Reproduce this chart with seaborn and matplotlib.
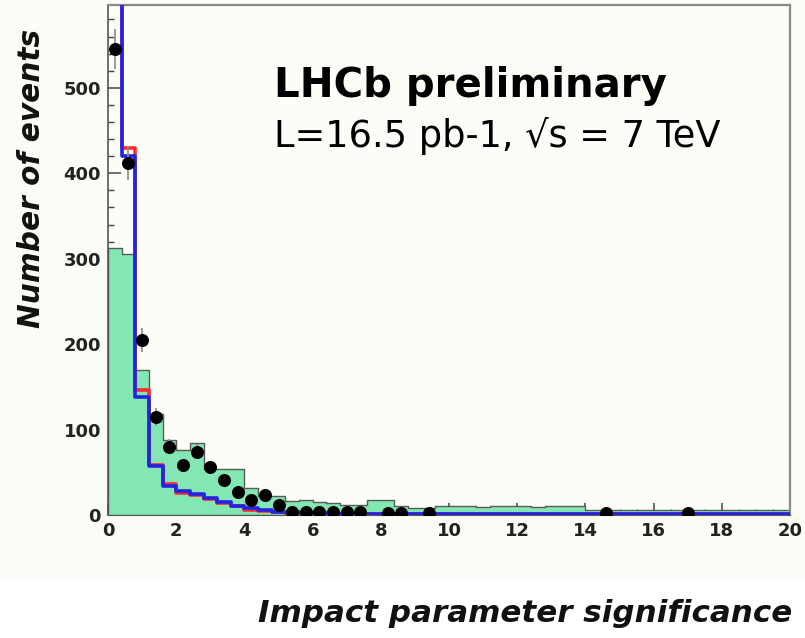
import numpy as np
import pandas as pd
import matplotlib
matplotlib.use("Agg")
import matplotlib.pyplot as plt
import seaborn as sns
from matplotlib.ticker import MultipleLocator
from matplotlib.patches import Rectangle

# Histogram binning: 0 to 20 in steps of 0.4
bin_width = 0.4
bin_range = (0, 20)
bin_centers = np.round(np.arange(0.2, 20, 0.4), 2)

# Total expectation (filled histogram)
total_counts = [312, 305, 170, 118, 88, 76, 84, 54, 54, 54,
                32, 22, 22, 16, 18, 15, 14, 12, 12, 17,
                17, 11, 8, 8, 10, 10, 10, 9, 10, 10,
                10, 9, 10, 10, 10, 6, 6, 6, 6, 6,
                6, 6, 6, 6, 6, 6, 6, 6, 6, 6]

# Component templates (open histograms)
red_counts = [700, 430, 146, 58, 36, 26, 23, 19, 14, 10,
              6, 5, 3, 2, 2, 1, 1, 1, 1, 1,
              1, 1, 1, 1, 1, 1, 1, 1, 1, 1,
              1, 1, 1, 1, 1, 1, 1, 1, 1, 1,
              1, 1, 1, 1, 1, 1, 1, 1, 1, 1]
blue_counts = [700, 420, 138, 57, 34, 28, 25, 20, 15, 11,
               8, 6, 4, 3, 2, 2, 1, 1, 1, 1,
               1, 1, 1, 1, 1, 1, 1, 1, 1, 1,
               1, 1, 1, 1, 1, 1, 1, 1, 1, 1,
               1, 1, 1, 1, 1, 1, 1, 1, 1, 1]

# Measured data points
data_x = [0.2, 0.6, 1.0, 1.4, 1.8, 2.2, 2.6, 3.0, 3.4, 3.8, 4.2, 4.6,
          5.0, 5.4, 5.8, 6.2, 6.6, 7.0, 7.4, 8.2, 8.6, 9.4, 14.6, 17.0]
data_y = [545, 412, 205, 115, 80, 58, 74, 56, 41, 27, 18, 23,
          12, 4, 3, 3, 3, 3, 3, 2, 2, 2, 2, 2]

sns.set_style("ticks")
plt.rcParams["font.family"] = ["DejaVu Sans"]

fig = plt.figure(figsize=(8.05, 6.38), dpi=100, facecolor="white")
# pale canvas behind the frame
fig.patches.append(Rectangle((0, 0.094), 1, 0.906, transform=fig.transFigure,
                             facecolor="#fcfcf6", edgecolor="none", zorder=-10))
ax = fig.add_axes([0.1342, 0.1928, 0.8472, 0.7994])
ax.set_facecolor("#fdfdf7")

hist_df = pd.DataFrame({"x": bin_centers, "total": total_counts,
                        "red": red_counts, "blue": blue_counts})

sns.histplot(data=hist_df, x="x", weights="total", binwidth=bin_width,
             binrange=bin_range, element="step", fill=True, color="#82e7b3",
             alpha=1.0, edgecolor="#5a5a5a", linewidth=1.0, ax=ax, zorder=1)
sns.histplot(data=hist_df, x="x", weights="red", binwidth=bin_width,
             binrange=bin_range, element="step", fill=False, color="#ff2a2a",
             linewidth=2.6, ax=ax, zorder=2)
sns.histplot(data=hist_df, x="x", weights="blue", binwidth=bin_width,
             binrange=bin_range, element="step", fill=False, color="#2323e6",
             linewidth=2.6, ax=ax, zorder=3)

ax.errorbar(data_x, data_y, yerr=np.sqrt(data_y), fmt="none",
            ecolor="#8c8c8c", elinewidth=1.2, zorder=4)
sns.scatterplot(x=data_x, y=data_y, color="black", s=88, edgecolor="black",
                linewidth=0, ax=ax, zorder=5, legend=False)

ax.set_xlim(0, 20)
ax.set_ylim(0, 597)
ax.xaxis.set_major_locator(MultipleLocator(2))
ax.xaxis.set_minor_locator(MultipleLocator(0.5))
ax.yaxis.set_major_locator(MultipleLocator(100))
ax.yaxis.set_minor_locator(MultipleLocator(20))
ax.tick_params(axis="both", which="major", direction="in", length=9, width=1.1,
               color="#444444", labelsize=13, pad=5)
ax.tick_params(axis="both", which="minor", direction="in", length=4.5, width=1.0,
               color="#444444")
for lbl in ax.get_xticklabels() + ax.get_yticklabels():
    lbl.set_fontweight("bold")
    lbl.set_color("#222222")

for side in ["top", "right"]:
    ax.spines[side].set_color("#8a8a8a")
    ax.spines[side].set_linewidth(1.6)
ax.spines["left"].set_color("#555555")
ax.spines["left"].set_linewidth(1.2)
ax.spines["bottom"].set_color("#555555")

ax.set_xlabel("")
ax.set_ylabel("")
fig.text(0.984, 0.025, "Impact parameter significance", ha="right", va="baseline",
         fontsize=22.3, fontweight="bold", fontstyle="italic", color="#111111")
fig.text(0.039, 0.72, "Number of events", ha="center", va="center", rotation=90,
         fontsize=21.3, fontweight="bold", fontstyle="italic", color="#111111")

ax.text(0.244, 0.82, "LHCb preliminary", transform=ax.transAxes,
        fontsize=29, fontweight="bold", color="black", va="baseline")
ax.text(0.244, 0.722, "L=16.5 pb-1, \u221as = 7 TeV", transform=ax.transAxes,
        fontsize=26.5, color="black", va="baseline")

fig.savefig("out.png", dpi=100, facecolor=fig.get_facecolor())
